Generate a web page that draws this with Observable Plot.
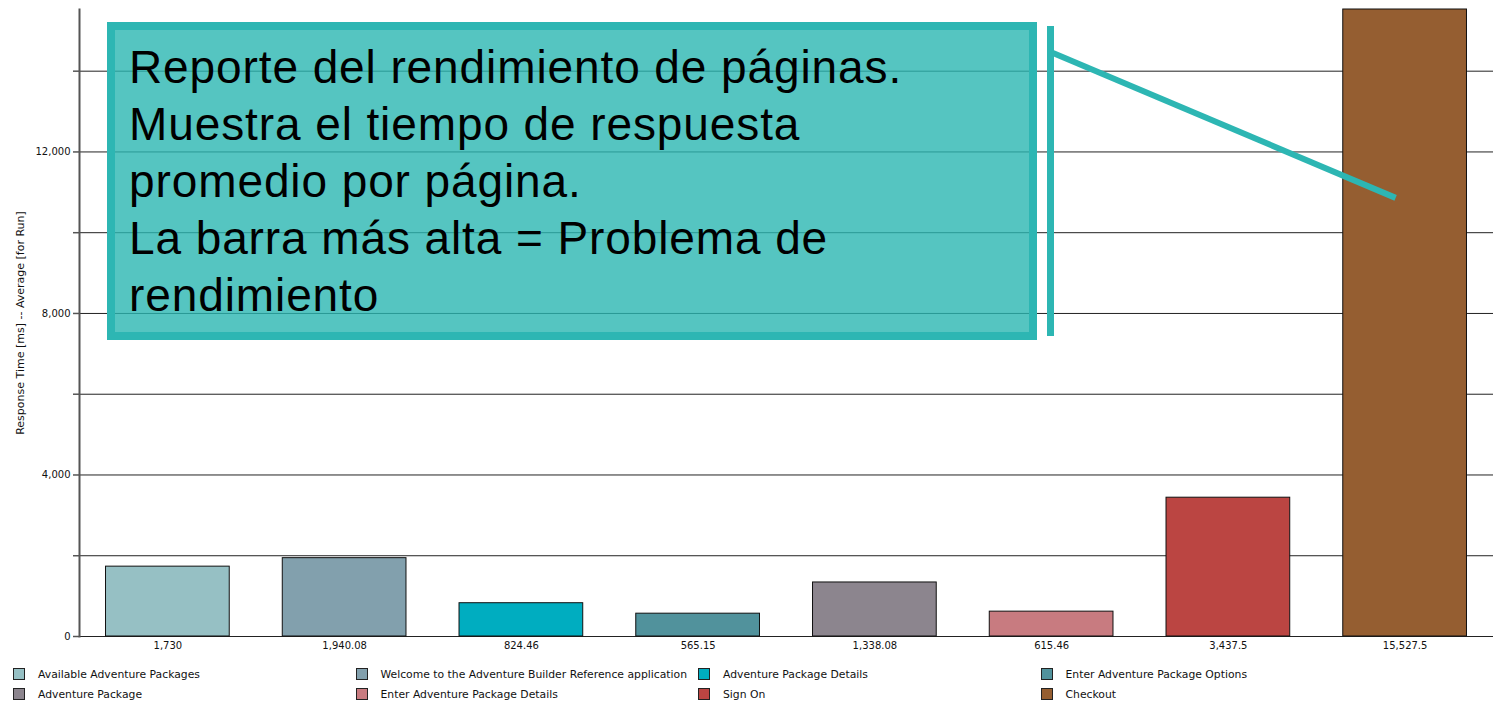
<!DOCTYPE html>
<html>
<head>
<meta charset="utf-8">
<script src="https://cdn.jsdelivr.net/npm/d3@7"></script>
<script src="https://cdn.jsdelivr.net/npm/@observablehq/plot@0.6"></script>
<style>
  html, body { margin: 0; padding: 0; background: #fff; }
  #wrap { position: relative; width: 1493px; height: 703px; overflow: hidden; font-family: "DejaVu Sans", sans-serif; }
  #legend { position: absolute; left: 0; top: 667px; width: 1493px; display: grid; grid-template-columns: 342.5px 342.5px 342.5px 342.5px; row-gap: 6px; padding-left: 13px; box-sizing: border-box; font-size: 10.8px; color: #111; }
  .li { display: flex; align-items: center; height: 14px; white-space: nowrap; }
  .sw { width: 10px; height: 10px; border: 1px solid #222; margin-right: 13px; flex: none; }
  #note { position: absolute; left: 107px; top: 22px; width: 930px; height: 318px; box-sizing: border-box;
          border: 8px solid #2db6b3; background: rgba(43,182,178,0.80);
          font-family: "Liberation Sans", Arial, sans-serif; font-size: 46px; line-height: 57px; letter-spacing: 0.9px; color: #000;
          padding: 9px 0 0 14px; white-space: nowrap; }
  #overlay { position: absolute; left: 0; top: 0; pointer-events: none; }
</style>
</head>
<body>
<div id="wrap"></div>
<script>
const pages = [
  "Available Adventure Packages",
  "Welcome to the Adventure Builder Reference application",
  "Adventure Package Details",
  "Enter Adventure Package Options",
  "Adventure Package",
  "Enter Adventure Package Details",
  "Sign On",
  "Checkout"
];
const values = [1730, 1940.08, 824.46, 565.15, 1338.08, 615.46, 3437.5, 15527.5];
const valueLabels = ["1,730", "1,940.08", "824.46", "565.15", "1,338.08", "615.46", "3,437.5", "15,527.5"];
const colors = ["#96c0c4", "#82a0ad", "#00adc0", "#51929c", "#8c858e", "#c87b80", "#bb4542", "#955e31"];
const yTicks = [0, 2000, 4000, 6000, 8000, 10000, 12000, 14000];
const yLabelTicks = [0, 4000, 8000, 12000];
const yTitle = "Response Time [ms] -- Average [for Run]";
const noteLines = [
  "Reporte del rendimiento de páginas.",
  "Muestra el tiempo de respuesta",
  "promedio por página.",
  "La barra más alta = Problema de",
  "rendimiento"
];
const noteTarget = {page: "Checkout", value: 10850};

const data = pages.map((p, i) => ({page: p, value: values[i], label: valueLabels[i], color: colors[i]}));

const chart = Plot.plot({
  width: 1493,
  height: 660,
  marginTop: 9,
  marginBottom: 24,
  marginLeft: 79,
  marginRight: 0,
  style: {background: "#fff", fontFamily: "DejaVu Sans, sans-serif", fontSize: "10px", color: "#111"},
  x: {domain: pages, paddingInner: 0.3, paddingOuter: 0.15, align: 0.5, round: false},
  y: {domain: [0, 15527.5]},
  color: {domain: pages, range: colors},
  marks: [
    Plot.gridY(yTicks, {stroke: "#222", strokeOpacity: 1, strokeWidth: 1}),
    Plot.barY(data, {x: "page", y: "value", fill: "page", stroke: "#111", strokeWidth: 1}),
    Plot.axisX({tickSize: 0, tickPadding: 5, tickFormat: (d) => valueLabels[pages.indexOf(d)], label: null}),
    Plot.axisY(yTicks, {tickSize: 6, tickPadding: 3, stroke: "#555", strokeWidth: 1.5,
      tickFormat: (d) => yLabelTicks.includes(d) ? d3.format(",")(d) : "", label: null}),
    Plot.text([yTitle], {frameAnchor: "left", textAnchor: "middle", rotate: -90, dx: -59, fontSize: 11, fill: "#111", text: (d) => d}),
    Plot.frame({anchor: "left", stroke: "#555", strokeWidth: 2})
  ]
});

const wrap = document.getElementById("wrap");
wrap.appendChild(chart);

// annotation box
const note = document.createElement("div");
note.id = "note";
note.innerHTML = noteLines.map(l => `<div>${l}</div>`).join("");
wrap.appendChild(note);

// callout lines
const xs = chart.scale("x"), ys = chart.scale("y");
const tx = xs.apply(noteTarget.page) + xs.bandwidth / 2 - 9;
const ty = ys.apply(noteTarget.value);
const ns = "http://www.w3.org/2000/svg";
const ov = document.createElementNS(ns, "svg");
ov.setAttribute("id", "overlay");
ov.setAttribute("width", 1493);
ov.setAttribute("height", 703);
ov.innerHTML = `
  <line x1="1050.5" y1="26" x2="1050.5" y2="336" stroke="#2db6b3" stroke-width="7"/>
  <line x1="1053" y1="53" x2="${tx}" y2="${ty}" stroke="#2db6b3" stroke-width="6"/>`;
wrap.appendChild(ov);

// legend
const leg = document.createElement("div");
leg.id = "legend";
leg.innerHTML = pages.map((p, i) => `<div class="li"><span class="sw" style="background:${colors[i]}"></span>${p}</div>`).join("");
wrap.appendChild(leg);
</script>
</body>
</html>
